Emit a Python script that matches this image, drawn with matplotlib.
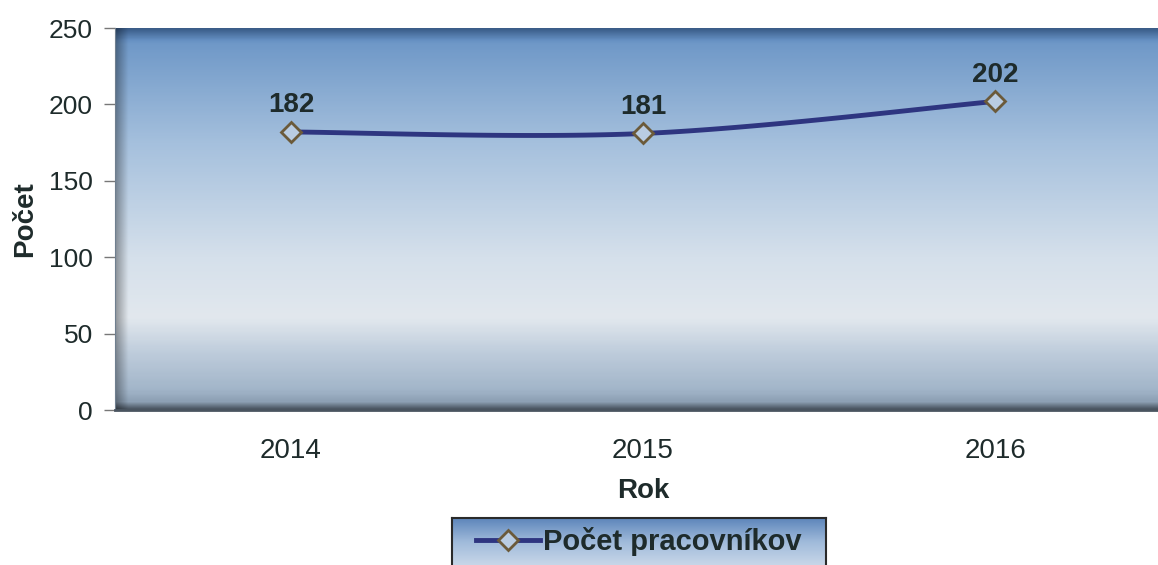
import matplotlib.pyplot as plt
import numpy as np
from matplotlib.colors import LinearSegmentedColormap
from matplotlib.lines import Line2D

plt.rcParams['font.family'] = ['Liberation Sans', 'DejaVu Sans']

# data
years = ['2014', '2015', '2016']
pracovnici = [182, 181, 202]
y_ticks = [0, 50, 100, 150, 200, 250]

TEXT = '#1e2b2b'
LINE = '#2e3580'


def smooth(xs, ys, n=40):
    # Catmull-Rom curve through the points (like Excel "smoothed line")
    px = np.concatenate(([xs[0]], xs, [xs[-1]]))
    py = np.concatenate(([ys[0]], ys, [ys[-1]]))
    ox, oy = [], []
    for i in range(1, len(px) - 2):
        t = np.linspace(0, 1, n)
        for p, out in ((px, ox), (py, oy)):
            p0, p1, p2, p3 = p[i - 1], p[i], p[i + 1], p[i + 2]
            out.extend(0.5 * ((2 * p1) + (-p0 + p2) * t
                              + (2 * p0 - 5 * p1 + 4 * p2 - p3) * t ** 2
                              + (-p0 + 3 * p1 - 3 * p2 + p3) * t ** 3))
    return np.array(ox), np.array(oy)


def gradient_img(h, w, stops, edge=True):
    cm = LinearSegmentedColormap.from_list('g', stops)
    col = cm(np.linspace(0, 1, h))[:, :3]
    img = np.repeat(col[:, None, :], w, axis=1)
    if edge:
        yy = np.linspace(0, 1, h)[:, None]
        xx = np.linspace(0, 1, w)[None, :]
        shade = np.ones((h, w))
        shade *= 1 - 0.35 * np.clip(1 - xx / 0.012, 0, 1)
        shade *= 1 - 0.25 * np.clip(1 - yy / 0.03, 0, 1)
        shade *= 1 - 0.45 * np.clip((yy - 0.98) / 0.02, 0, 1)
        img = img * shade[:, :, None]
    return img


fig = plt.figure(figsize=(11.58, 5.65), dpi=100)
ax = fig.add_axes([0.0993, 0.2743, 0.912, 0.676])

stops = [(0.0, '#4f7cb6'), (0.04, '#7099c8'), (0.3, '#a5c0dd'),
         (0.6, '#d5e0eb'), (0.76, '#e2e8ee'), (0.85, '#bfcddc'),
         (0.95, '#a2b5c9'), (1.0, '#8194a8')]
ax.imshow(gradient_img(300, 600, stops), extent=(-0.5, 2.5, 0, 250),
          aspect='auto', zorder=0, interpolation='bilinear')

x = np.arange(len(years))
sx, sy = smooth(x.astype(float), np.array(pracovnici, dtype=float))
ax.plot(sx, sy, color=LINE, lw=3.5, zorder=2, solid_capstyle='round')
ax.plot(x, pracovnici, ls='none', marker='D', ms=10,
        mfc='#b9cce2', mec='#6b5a3a', mew=2, zorder=3)

for xi, v in zip(x, pracovnici):
    ax.annotate(str(v), (xi, v), xytext=(0, 10), textcoords='offset points',
                ha='center', va='bottom', fontsize=20, fontweight='bold',
                color=TEXT, zorder=4)

ax.set_xlim(-0.5, 2.5)
ax.set_ylim(0, 250)
ax.set_xticks(x)
ax.set_xticklabels(years)
ax.set_yticks(y_ticks)
ax.tick_params(axis='x', length=0, pad=20, labelsize=20, labelcolor=TEXT)
ax.tick_params(axis='y', length=8, width=1, color='#777777', pad=8,
               labelsize=19, labelcolor=TEXT)
for s in ('top', 'right'):
    ax.spines[s].set_visible(False)
ax.spines['left'].set_color('#6f7f8f')
ax.spines['bottom'].set_color('#4a5560')
ax.spines['bottom'].set_linewidth(2)

ax.set_xlabel('Rok', fontsize=20, fontweight='bold', color=TEXT, labelpad=10)
ax.set_ylabel('Počet', fontsize=20, fontweight='bold', color=TEXT, labelpad=8)

# legend box with gradient fill
lax = fig.add_axes([0.390, 0.0, 0.323, 0.083])
lstops = [(0.0, '#5e86bb'), (0.5, '#9fbada'), (1.0, '#c7d6e8')]
lax.imshow(gradient_img(50, 200, lstops, edge=False), extent=(0, 1, 0, 1),
           aspect='auto', zorder=0)
lax.set_xlim(0, 1)
lax.set_ylim(0, 1)
lax.set_xticks([])
lax.set_yticks([])
for s in lax.spines.values():
    s.set_color('#2a2a2a')
    s.set_linewidth(1.5)
lax.spines['bottom'].set_visible(False)

handle = Line2D([], [], color=LINE, lw=3.5, marker='D', ms=10,
                mfc='#b9cce2', mec='#6b5a3a', mew=2)
lax.legend([handle], ['Počet pracovníkov'], loc='center', frameon=False,
           prop={'size': 21, 'weight': 'bold'}, handlelength=2.2,
           handletextpad=0.1, borderaxespad=0, labelcolor=TEXT)

fig.savefig('out.png', dpi=100)
